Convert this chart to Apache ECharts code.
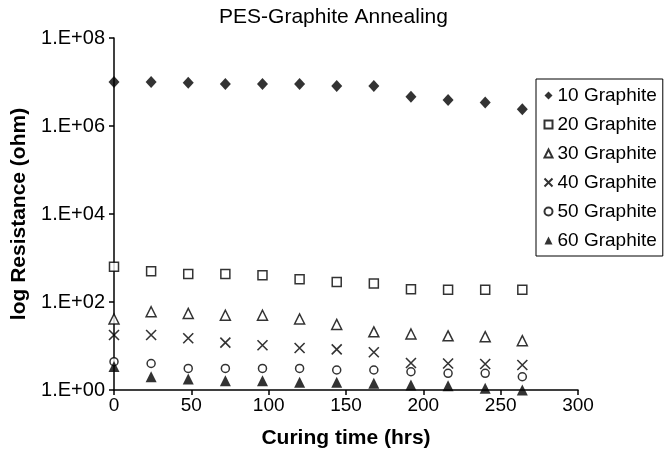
<!DOCTYPE html>
<html>
<head>
<meta charset="utf-8">
<script src="https://cdn.jsdelivr.net/npm/echarts@6/dist/echarts.min.js"></script>
<style>
    html, body { margin: 0; padding: 0; background: #fff; }
    #chart { width: 667px; height: 458px; }
</style>
</head>
<body>
<div id="chart"></div>
<script>
const hours = [0, 24, 48, 72, 96, 120, 144, 168, 192, 216, 240, 264];
const g10 = [1.0e7, 1.0e7, 9.6e6, 9.0e6, 9.0e6, 9.0e6, 8.1e6, 8.1e6, 4.6e6, 3.9e6, 3.4e6, 2.4e6];
const g20 = [630, 500, 435, 435, 405, 330, 285, 265, 195, 190, 190, 190];
const g30 = [41, 60, 55, 50, 50, 41, 31, 21, 18.7, 17, 16.3, 13.2];
const g40 = [17.8, 17.8, 15, 11.9, 10.4, 9, 8.4, 7.2, 4.1, 4.0, 3.9, 3.7];
const g50 = [4.4, 4.0, 3.1, 3.1, 3.1, 3.1, 2.85, 2.85, 2.6, 2.4, 2.4, 2.0];
const g60 = [3.4, 2.0, 1.78, 1.63, 1.63, 1.5, 1.5, 1.42, 1.3, 1.25, 1.09, 1.0];
const names = ['10 Graphite', '20 Graphite', '30 Graphite', '40 Graphite', '50 Graphite', '60 Graphite'];

const font = 'Liberation Sans, Arial, sans-serif';
const crossPath = 'path://M0,0L10,10M10,0L0,10';

const filled = {color: '#000'};
const hollow = {color: '#fff', borderColor: '#000', borderWidth: 1.5};
const markers = [
    {symbol: 'diamond', size: [11, 12], style: filled},
    {symbol: 'rect', size: 9, style: hollow},
    {symbol: 'triangle', size: 10, style: hollow},
    {symbol: crossPath, size: 10, style: {color: 'none', borderColor: '#000', borderWidth: 1.6}},
    {symbol: 'circle', size: 8, style: hollow},
    {symbol: 'triangle', size: 11, style: filled}
];

const makeSeries = (vals, i)=>{
    return {
        name: names[i],
        type: 'scatter',
        data: hours.map((h, j)=>[h, vals[j]]),
        symbol: markers[i].symbol,
        symbolSize: markers[i].size,
        itemStyle: markers[i].style
    };
};

let chart = echarts.init(document.getElementById('chart'));
chart.setOption({
    animation: false,
    textStyle: {fontFamily: font},
    title: {
        text: 'PES-Graphite Annealing',
        left: 'center',
        top: 2,
        textStyle: {fontFamily: font, fontSize: 21, fontWeight: 'normal', color: '#000'}
    },
    grid: {
        left: 114,
        right: 89,
        top: 38,
        bottom: 68
    },
    legend: {
        orient: 'vertical',
        left: 536,
        top: 79,
        padding: [7, 6, 6, 6],
        itemWidth: 8,
        itemHeight: 8,
        itemGap: 10,
        borderColor: '#000',
        borderWidth: 1,
        textStyle: {fontFamily: font, fontSize: 19, color: '#000'},
        data: names
    },
    xAxis: {
        type: 'value',
        min: 0,
        max: 300,
        interval: 50,
        name: 'Curing time (hrs)',
        nameLocation: 'middle',
        nameGap: 38,
        nameTextStyle: {fontFamily: font, fontSize: 21, fontWeight: 'bold', color: '#000'},
        axisLine: {lineStyle: {color: '#000', width: 1.5}},
        axisTick: {show: true, length: 5, lineStyle: {color: '#000', width: 1.5}},
        axisLabel: {fontFamily: font, fontSize: 19, color: '#000', margin: 6},
        splitLine: {show: false}
    },
    yAxis: {
        type: 'log',
        logBase: 10,
        min: 1,
        max: 1e8,
        interval: 2,
        name: 'log Resistance (ohm)',
        nameLocation: 'middle',
        nameGap: 77,
        nameTextStyle: {fontFamily: font, fontSize: 21, fontWeight: 'bold', color: '#000'},
        axisLine: {show: true, lineStyle: {color: '#000', width: 1.5}},
        axisTick: {show: true, length: 5, lineStyle: {color: '#000', width: 1.5}},
        axisLabel: {
            fontFamily: font,
            fontSize: 20,
            color: '#000',
            margin: 9,
            formatter: (v)=>{
                let e = Math.round(Math.log10(v));
                return '1.E+' + (e < 10 ? '0' + e : e);
            }
        },
        splitLine: {show: false},
        minorTick: {show: false}
    },
    series: [g10, g20, g30, g40, g50, g60].map(makeSeries)
});
</script>
</body>
</html>
